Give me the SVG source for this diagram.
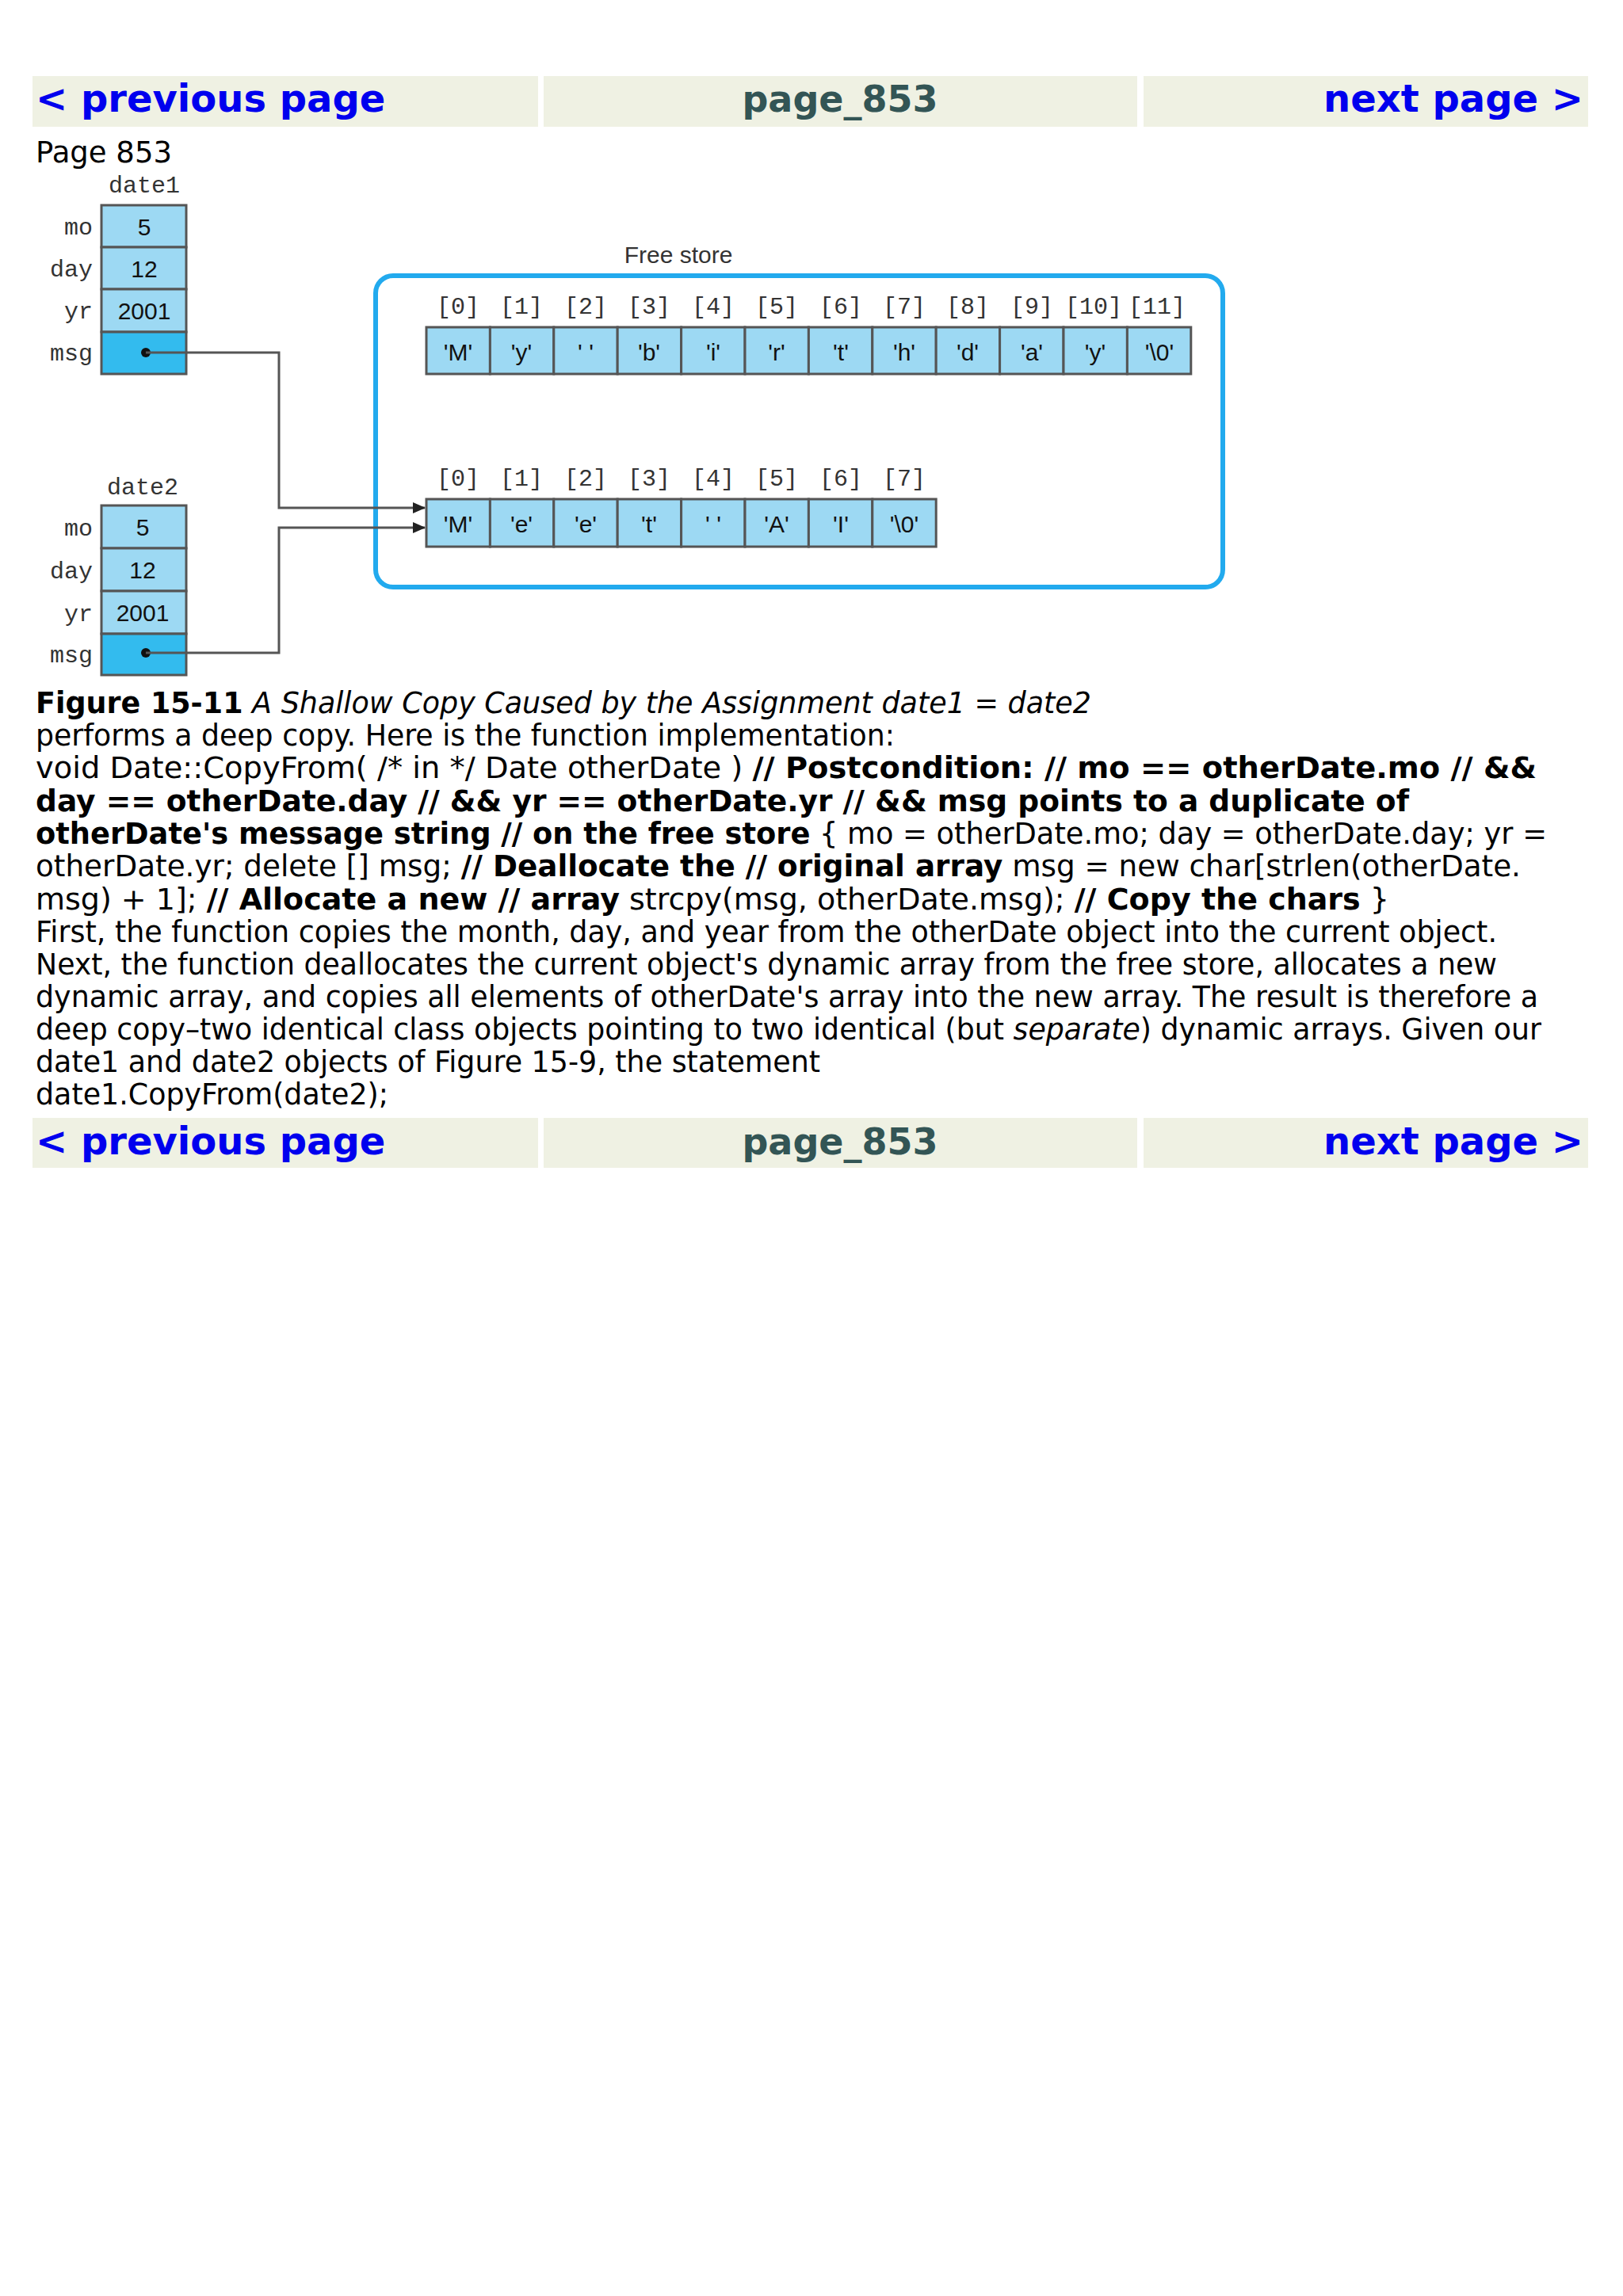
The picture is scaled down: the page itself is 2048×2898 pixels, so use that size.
<svg xmlns="http://www.w3.org/2000/svg" width="2048" height="2898" viewBox="0 0 2048 2898">
<style>
.nav{fill:#eff1e3}
.lnk{font-family:"DejaVu Sans",sans-serif;font-weight:bold;font-size:48px;fill:#0000ee}
.pg{font-family:"DejaVu Sans",sans-serif;font-weight:bold;font-size:46px;fill:#335555}
.t{font-family:"DejaVu Sans",sans-serif;font-size:37px;fill:#000}
.b{font-weight:bold}
.i{font-style:italic}
.lab{font-family:"Liberation Mono",monospace;font-size:30px;fill:#333}
.cell{fill:#9dd9f3;stroke:#555;stroke-width:3}
.ptr{fill:#33bbee;stroke:#555;stroke-width:3}
.ct{font-family:"Liberation Sans Narrow","Liberation Sans",sans-serif;font-size:30px;fill:#111;text-anchor:middle}
.idx{font-family:"Liberation Mono",monospace;font-size:30px;fill:#333;text-anchor:middle}
.conn{fill:none;stroke:#555;stroke-width:3}
</style>
<defs><marker id="ah" markerWidth="16" markerHeight="14" refX="15" refY="7" orient="auto" markerUnits="userSpaceOnUse" viewBox="0 0 16 14"><path d="M0,0 L16,7 L0,14 z" fill="#222"/></marker></defs>
<rect width="2048" height="2898" fill="#fff"/>
<g id="navtop">
<rect class="nav" x="41" y="96" width="638" height="64"/><rect class="nav" x="686" y="96" width="749" height="64"/><rect class="nav" x="1443" y="96" width="561" height="64"/>
<text class="lnk" x="45" y="141">&lt; previous page</text>
<text class="pg" x="1060" y="141" text-anchor="middle">page_853</text>
<text class="lnk" x="1998" y="141" text-anchor="end">next page &gt;</text>
</g>
<text class="t" x="45" y="205">Page 853</text>
<g id="date1">
<text class="lab" x="182" y="243" text-anchor="middle">date1</text>
<text class="lab" x="117" y="296" text-anchor="end">mo</text><text class="lab" x="117" y="349" text-anchor="end">day</text><text class="lab" x="117" y="402" text-anchor="end">yr</text><text class="lab" x="117" y="455" text-anchor="end">msg</text>
<rect class="cell" x="128" y="259" width="107" height="53"/><rect class="cell" x="128" y="312" width="107" height="53"/><rect class="cell" x="128" y="365" width="107" height="54"/><rect class="ptr" x="128" y="419" width="107" height="53"/>
<text class="ct" x="182" y="297">5</text><text class="ct" x="182" y="350">12</text><text class="ct" x="182" y="403">2001</text>
<circle cx="184" cy="445" r="6" fill="#111"/>
</g>
<g id="date2">
<text class="lab" x="180" y="624" text-anchor="middle">date2</text>
<text class="lab" x="117" y="676" text-anchor="end">mo</text><text class="lab" x="117" y="730" text-anchor="end">day</text><text class="lab" x="117" y="784" text-anchor="end">yr</text><text class="lab" x="117" y="836" text-anchor="end">msg</text>
<rect class="cell" x="128" y="638" width="107" height="54"/><rect class="cell" x="128" y="692" width="107" height="54"/><rect class="cell" x="128" y="746" width="107" height="54"/><rect class="ptr" x="128" y="800" width="107" height="52"/>
<text class="ct" x="180" y="676">5</text><text class="ct" x="180" y="730">12</text><text class="ct" x="180" y="784">2001</text>
<circle cx="184" cy="824" r="6" fill="#111"/>
</g>
<g id="freestore">
<text x="856" y="332" text-anchor="middle" font-family="Liberation Sans Narrow, Liberation Sans, sans-serif" font-size="30" fill="#333">Free store</text>
<rect x="474" y="348" width="1069" height="393" rx="22" fill="none" stroke="#22aaee" stroke-width="6"/>
</g>
<g id="array1">
<rect class="cell" x="538" y="413" width="80.4" height="59"/><rect class="cell" x="618.4" y="413" width="80.4" height="59"/><rect class="cell" x="698.8" y="413" width="80.4" height="59"/><rect class="cell" x="779.2" y="413" width="80.4" height="59"/><rect class="cell" x="859.6" y="413" width="80.4" height="59"/><rect class="cell" x="940" y="413" width="80.4" height="59"/><rect class="cell" x="1020.4" y="413" width="80.4" height="59"/><rect class="cell" x="1100.8" y="413" width="80.4" height="59"/><rect class="cell" x="1181.2" y="413" width="80.4" height="59"/><rect class="cell" x="1261.6" y="413" width="80.4" height="59"/><rect class="cell" x="1342" y="413" width="80.4" height="59"/><rect class="cell" x="1422.4" y="413" width="80.4" height="59"/>
<text class="idx" y="396"><tspan x="578">[0]</tspan><tspan x="658">[1]</tspan><tspan x="739">[2]</tspan><tspan x="819">[3]</tspan><tspan x="900">[4]</tspan><tspan x="980">[5]</tspan><tspan x="1061">[6]</tspan><tspan x="1141">[7]</tspan><tspan x="1221">[8]</tspan><tspan x="1302">[9]</tspan><tspan x="1380">[10]</tspan><tspan x="1460">[11]</tspan></text>
<text class="ct" y="455"><tspan x="578">'M'</tspan><tspan x="658">'y'</tspan><tspan x="739">' '</tspan><tspan x="819">'b'</tspan><tspan x="900">'i'</tspan><tspan x="980">'r'</tspan><tspan x="1061">'t'</tspan><tspan x="1141">'h'</tspan><tspan x="1221">'d'</tspan><tspan x="1302">'a'</tspan><tspan x="1382">'y'</tspan><tspan x="1463">'\0'</tspan></text>
</g>
<g id="array2">
<rect class="cell" x="538" y="630" width="80.4" height="60"/><rect class="cell" x="618.4" y="630" width="80.4" height="60"/><rect class="cell" x="698.8" y="630" width="80.4" height="60"/><rect class="cell" x="779.2" y="630" width="80.4" height="60"/><rect class="cell" x="859.6" y="630" width="80.4" height="60"/><rect class="cell" x="940" y="630" width="80.4" height="60"/><rect class="cell" x="1020.4" y="630" width="80.4" height="60"/><rect class="cell" x="1100.8" y="630" width="80.4" height="60"/>
<text class="idx" y="613"><tspan x="578">[0]</tspan><tspan x="658">[1]</tspan><tspan x="739">[2]</tspan><tspan x="819">[3]</tspan><tspan x="900">[4]</tspan><tspan x="980">[5]</tspan><tspan x="1061">[6]</tspan><tspan x="1141">[7]</tspan></text>
<text class="ct" y="672"><tspan x="578">'M'</tspan><tspan x="658">'e'</tspan><tspan x="739">'e'</tspan><tspan x="819">'t'</tspan><tspan x="900">' '</tspan><tspan x="980">'A'</tspan><tspan x="1061">'I'</tspan><tspan x="1141">'\0'</tspan></text>
</g>
<g id="connectors">
<path class="conn" d="M184,445 H352 V641 H536" marker-end="url(#ah)"/>
<path class="conn" d="M184,824 H352 V666 H536" marker-end="url(#ah)"/>
</g>
<g id="body" class="t">
<text x="45" y="900" textLength="1332" lengthAdjust="spacingAndGlyphs"><tspan class="b">Figure 15-11</tspan> <tspan class="i">A Shallow Copy Caused by the Assignment date1 = date2</tspan></text>
<text x="45" y="941" textLength="1084" lengthAdjust="spacingAndGlyphs">performs a deep copy. Here is the function implementation:</text>
<text x="45" y="982" textLength="1894" lengthAdjust="spacingAndGlyphs">void Date::CopyFrom( /* in */ Date otherDate ) <tspan class="b">// Postcondition: // mo == otherDate.mo // &amp;&amp;</tspan></text>
<text x="45" y="1024" textLength="1733" lengthAdjust="spacingAndGlyphs" class="b">day == otherDate.day // &amp;&amp; yr == otherDate.yr // &amp;&amp; msg points to a duplicate of</text>
<text x="45" y="1065" textLength="1907" lengthAdjust="spacingAndGlyphs"><tspan class="b">otherDate's message string // on the free store</tspan> { mo = otherDate.mo; day = otherDate.day; yr =</text>
<text x="45" y="1106" textLength="1874" lengthAdjust="spacingAndGlyphs">otherDate.yr; delete [] msg; <tspan class="b">// Deallocate the // original array</tspan> msg = new char[strlen(otherDate.</text>
<text x="45" y="1148" textLength="1708" lengthAdjust="spacingAndGlyphs">msg) + 1]; <tspan class="b">// Allocate a new // array</tspan> strcpy(msg, otherDate.msg); <tspan class="b">// Copy the chars</tspan> }</text>
<text x="45" y="1189" textLength="1844" lengthAdjust="spacingAndGlyphs">First, the function copies the month, day, and year from the otherDate object into the current object.</text>
<text x="45" y="1230" textLength="1844" lengthAdjust="spacingAndGlyphs">Next, the function deallocates the current object's dynamic array from the free store, allocates a new</text>
<text x="45" y="1271" textLength="1896" lengthAdjust="spacingAndGlyphs">dynamic array, and copies all elements of otherDate's array into the new array. The result is therefore a</text>
<text x="45" y="1312" textLength="1900" lengthAdjust="spacingAndGlyphs">deep copy–two identical class objects pointing to two identical (but <tspan class="i">separate</tspan>) dynamic arrays. Given our</text>
<text x="45" y="1353" textLength="990" lengthAdjust="spacingAndGlyphs">date1 and date2 objects of Figure 15-9, the statement</text>
<text x="45" y="1394" textLength="445" lengthAdjust="spacingAndGlyphs">date1.CopyFrom(date2);</text>
</g>
<g id="navbottom">
<rect class="nav" x="41" y="1411" width="638" height="63"/><rect class="nav" x="686" y="1411" width="749" height="63"/><rect class="nav" x="1443" y="1411" width="561" height="63"/>
<text class="lnk" x="45" y="1457">&lt; previous page</text>
<text class="pg" x="1060" y="1457" text-anchor="middle">page_853</text>
<text class="lnk" x="1998" y="1457" text-anchor="end">next page &gt;</text>
</g>
</svg>
